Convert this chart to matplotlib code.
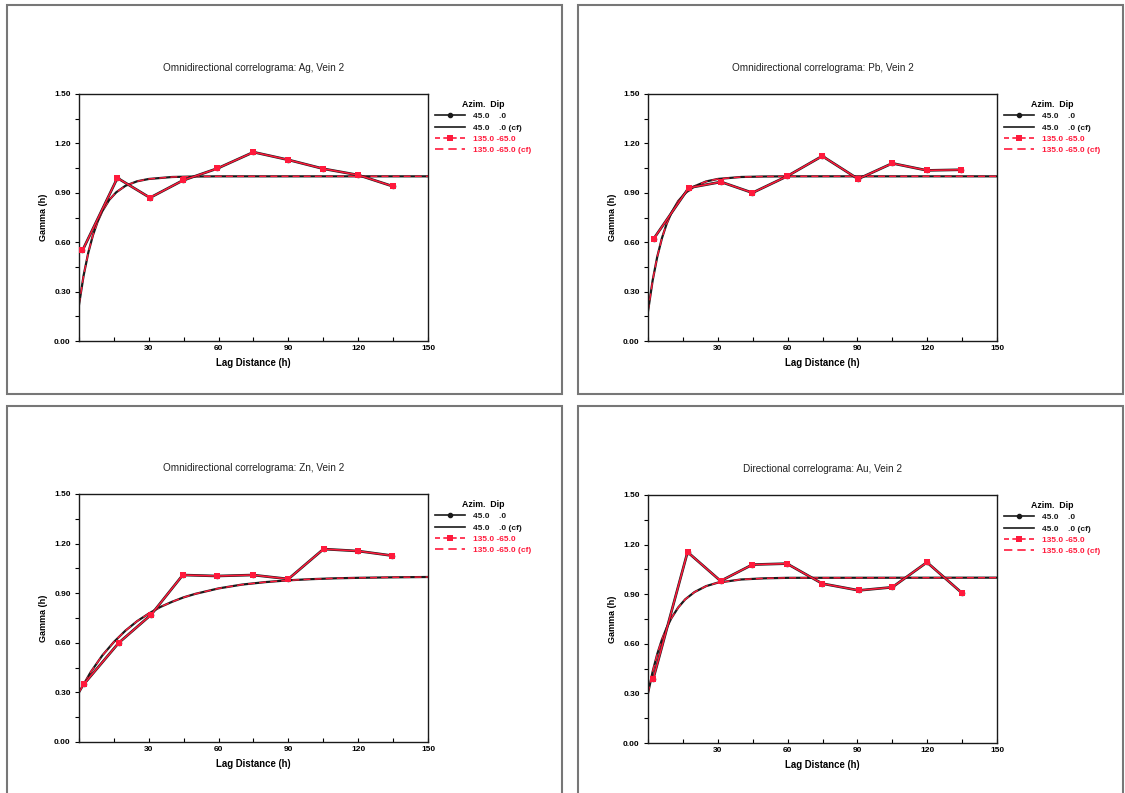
"""
Four correlogram panels (Ag, Pb, Zn, Au, Vein 2): experimental points and
fitted models for two directions that overlap almost exactly.
"""

import matplotlib
matplotlib.use("Agg")
import matplotlib.pyplot as plt
import matplotlib.ticker as mticker
from matplotlib.lines import Line2D
from matplotlib.patches import Rectangle

# ---------------------------------------------------------------------------
# DATA
# ---------------------------------------------------------------------------
TITLES = [
    "Omnidirectional correlograma: Ag, Vein 2",
    "Omnidirectional correlograma: Pb, Vein 2",
    "Omnidirectional correlograma: Zn, Vein 2",
    "Directional correlograma: Au, Vein 2",
]

# experimental points (both directions plot on top of each other)
LAG_AG = [1.5, 16.5, 30.5, 44.6, 59.5, 75.0, 90.0, 105.0, 120.0, 134.8]
GAMMA_AG = [0.55, 0.99, 0.87, 0.975, 1.048, 1.147, 1.10, 1.046, 1.008, 0.94]

LAG_PB = [2.4, 17.5, 31.4, 44.9, 59.7, 74.9, 90.3, 105.0, 119.9, 134.6]
GAMMA_PB = [0.62, 0.93, 0.966, 0.90, 1.0, 1.123, 0.984, 1.079, 1.036, 1.04]

LAG_ZN = [2.1, 17.1, 31.0, 44.6, 59.4, 74.8, 90.0, 105.1, 120.0, 134.7]
GAMMA_ZN = [0.35, 0.60, 0.77, 1.01, 1.004, 1.01, 0.986, 1.167, 1.155, 1.127]

LAG_AU = [2.2, 17.0, 31.2, 44.9, 59.7, 74.9, 90.6, 105.0, 119.9, 134.8]
GAMMA_AU = [0.385, 1.155, 0.98, 1.079, 1.085, 0.964, 0.923, 0.942, 1.093, 0.909]

# fitted model curves (cf)
MODEL_H = [0, 2, 4, 6, 8, 10, 13, 16, 20, 25, 30, 40, 50, 60, 150]
MODEL_AG = [0.22, 0.399, 0.537, 0.643, 0.725, 0.788, 0.857, 0.903, 0.943,
            0.970, 0.984, 0.996, 0.999, 1.0, 1.0]
MODEL_PB = [0.18, 0.368, 0.513, 0.625, 0.711, 0.777, 0.850, 0.898, 0.940,
            0.969, 0.984, 0.996, 0.999, 1.0, 1.0]
MODEL_AU = [0.30, 0.432, 0.539, 0.626, 0.696, 0.754, 0.820, 0.869, 0.913,
            0.949, 0.970, 0.989, 0.996, 0.999, 1.0]
MODEL_H_ZN = [0, 5, 10, 15, 20, 25, 30, 35, 40, 45, 50, 60, 70, 80, 90,
              100, 110, 120, 135, 150]
MODEL_ZN = [0.30, 0.422, 0.523, 0.605, 0.674, 0.731, 0.777, 0.817, 0.848,
            0.875, 0.896, 0.929, 0.952, 0.967, 0.978, 0.985, 0.99, 0.993,
            0.996, 0.998]

LEGEND_LABELS = ["45.0    .0", "45.0    .0 (cf)", "135.0 -65.0",
                 "135.0 -65.0 (cf)"]
X_TICKS = [30, 60, 90, 120, 150]
Y_TICKS = [0.0, 0.3, 0.6, 0.9, 1.2, 1.5]

PANELS = [
    (TITLES[0], LAG_AG, GAMMA_AG, MODEL_H, MODEL_AG),
    (TITLES[1], LAG_PB, GAMMA_PB, MODEL_H, MODEL_PB),
    (TITLES[2], LAG_ZN, GAMMA_ZN, MODEL_H_ZN, MODEL_ZN),
    (TITLES[3], LAG_AU, GAMMA_AU, MODEL_H, MODEL_AU),
]

# ---------------------------------------------------------------------------
# Style
# ---------------------------------------------------------------------------
plt.rcParams["font.family"] = ["Liberation Sans", "DejaVu Sans"]
RED = "#ff1a3c"
BLACK = "#1a1a1a"
FRAME = "#777777"

W, H = 1125, 793
fig = plt.figure(figsize=(W / 100, H / 100), dpi=100)
fig.patch.set_facecolor("white")


def fx(px):
    return px / W


def fy(py):
    return 1 - py / H


# panel frames (pixel boxes: x0, y0, x1, y1)
for x0, y0, x1, y1 in [(7, 5, 562, 394), (578, 5, 1123, 394),
                       (7, 406, 562, 820), (578, 406, 1123, 820)]:
    fig.add_artist(Rectangle((fx(x0), fy(y1)), fx(x1) - fx(x0),
                             fy(y0) - fy(y1), transform=fig.transFigure,
                             fill=False, edgecolor=FRAME, linewidth=1.5))

# axes boxes in pixels: left, top, right, bottom
AX_BOXES = [(79, 94, 428, 341), (648, 94, 997, 341),
            (79, 494, 428, 742), (648, 495, 997, 743)]

for (title, lag, gamma, mh, mg), (l, t, r, b) in zip(PANELS, AX_BOXES):
    ax = fig.add_axes([fx(l), fy(b), fx(r) - fx(l), fy(t) - fy(b)])

    # experimental: 45.0 .0 (black) under 135.0 -65.0 (red)
    ax.plot(lag, gamma, color=BLACK, linewidth=1.9, marker="o",
            markersize=3, zorder=3)
    ax.plot(lag, gamma, color=RED, linewidth=1.1, marker="s",
            markersize=4.8, markeredgewidth=0, zorder=4)
    # fitted models
    ax.plot(mh, mg, color=BLACK, linewidth=1.6, zorder=2)
    ax.plot(mh, mg, color=RED, linewidth=1.0, dashes=(5, 3), zorder=2.5)

    ax.set_xlim(0, 150)
    ax.set_ylim(0, 1.5)
    ax.set_xticks(X_TICKS)
    ax.set_yticks(Y_TICKS)
    ax.xaxis.set_minor_locator(mticker.MultipleLocator(15))
    ax.yaxis.set_minor_locator(mticker.MultipleLocator(0.15))
    ax.yaxis.set_major_formatter(mticker.FormatStrFormatter("%.2f"))
    ax.tick_params(axis="x", which="both", direction="in", length=3,
                   width=0.8, pad=3, labelsize=6)
    ax.tick_params(axis="y", which="both", direction="out", length=3,
                   width=0.8, pad=3, labelsize=6)
    for lab in ax.get_xticklabels() + ax.get_yticklabels():
        lab.set_fontweight("bold")
    for sp in ax.spines.values():
        sp.set_linewidth(1.0)
        sp.set_color(BLACK)

    ax.text(0.5, 1.105, title, transform=ax.transAxes, ha="center",
            va="center", fontsize=7.2, color="#222222")
    ax.set_xlabel("Lag Distance (h)", fontsize=6.9, fontweight="bold")
    ax.xaxis.set_label_coords(0.5, -0.07)
    ax.set_ylabel("Gamma (h)", fontsize=6.5, fontweight="bold")
    ax.yaxis.set_label_coords(-0.09, 0.5)

    handles = [
        Line2D([], [], color=BLACK, linewidth=1.2, marker="o", markersize=3),
        Line2D([], [], color=BLACK, linewidth=1.2),
        Line2D([], [], color=RED, linewidth=1.2, dashes=(3, 2), marker="s",
               markersize=4, markeredgewidth=0),
        Line2D([], [], color=RED, linewidth=1.2, dashes=(5, 3)),
    ]
    leg = ax.legend(handles, LEGEND_LABELS, title="Azim.  Dip",
                    loc="upper left", bbox_to_anchor=(1.02, 0.975),
                    borderaxespad=0, borderpad=0, frameon=False,
                    fontsize=6, title_fontsize=6.3, handlelength=3.6,
                    handletextpad=1.0, labelspacing=0.4,
                    labelcolor=[BLACK, BLACK, RED, RED])
    leg.get_title().set_fontweight("bold")
    for txt in leg.get_texts():
        txt.set_fontweight("bold")

fig.savefig("out.png", dpi=100, facecolor="white")
